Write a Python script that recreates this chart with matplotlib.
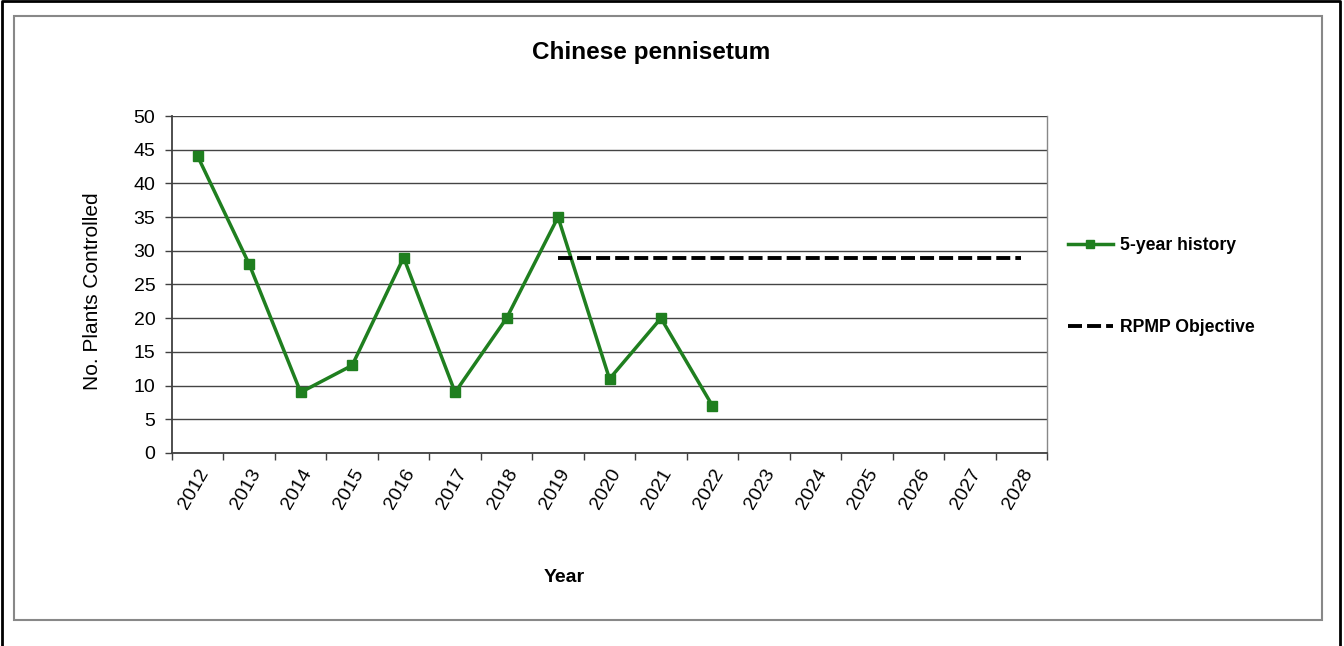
import matplotlib.pyplot as plt
from matplotlib.lines import Line2D
from matplotlib.patches import Rectangle

plt.rcParams["font.family"] = ["Liberation Sans", "DejaVu Sans"]

years = [str(y) for y in range(2012, 2029)]
history_years = years[:11]
history = [44, 28, 9, 13, 29, 9, 20, 35, 11, 20, 7]
objective_years = years[7:]
objective = [29] * len(objective_years)

green = "#1f7f1f"
dash = (0, (3.6, 1.3))

fig = plt.figure(figsize=(13.44, 6.46), dpi=100)
ax = fig.add_axes([0.128, 0.2988, 0.651, 0.5216])

xpos = {y: i for i, y in enumerate(years)}
ax.plot([xpos[y] for y in history_years], history, color=green, lw=2.5,
        marker="s", ms=6.5, mfc=green, mec=green, zorder=3)
ax.plot([xpos[y] for y in objective_years], objective, color="black",
        lw=2.8, ls=dash, zorder=3)

ax.set_xlim(-0.5, len(years) - 0.5)
ax.set_ylim(0, 50)
ax.set_yticks(range(0, 51, 5))
ax.set_xticks(range(len(years)))
ax.set_xticklabels(years, rotation=60, ha="right", rotation_mode="anchor",
                   fontsize=14)
ax.set_xticks([i - 0.5 for i in range(len(years) + 1)], minor=True)
ax.tick_params(axis="x", which="major", length=0, pad=9)
ax.tick_params(axis="x", which="minor", length=5, width=1, color="#404040")
ax.tick_params(axis="y", length=5, width=1, color="#404040", labelsize=14, pad=7)
ax.yaxis.grid(True, color="#444444", lw=1)
ax.set_axisbelow(True)

ax.spines["right"].set_color("#888888")
ax.spines["right"].set_linewidth(1)
for side in ["left", "bottom"]:
    ax.spines[side].set_color("#404040")
    ax.spines[side].set_linewidth(1.3)
ax.spines["top"].set_visible(False)

ax.set_ylabel("No. Plants Controlled", fontsize=15)
ax.yaxis.set_label_coords(-0.08, 0.48)
fig.text(564 / 1344, 1 - 577 / 646, "Year", fontsize=14, fontweight="bold",
         ha="center", va="center")
fig.text(651 / 1344, 1 - 52 / 646, "Chinese pennisetum", fontsize=17.5,
         fontweight="bold", ha="center", va="center")

handles = [
    Line2D([], [], color=green, lw=2.5, marker="s", ms=6, mfc=green, mec=green),
    Line2D([], [], color="black", lw=2.8, ls=dash),
]
leg = fig.legend(handles, ["5-year history", "RPMP Objective"],
                 loc="upper left", bbox_to_anchor=(1052 / 1344, 1 - 221 / 646),
                 frameon=False, handlelength=2.55, handletextpad=0.4,
                 labelspacing=3.7, prop={"weight": "bold", "size": 12.7})

# inner grey frame and outer black border
fig.add_artist(Rectangle((14 / 1344, 1 - 620 / 646), 1308 / 1344, 604 / 646,
                         transform=fig.transFigure, fill=False,
                         ec="#888888", lw=1.5))
fig.add_artist(Line2D([1.5 / 1344, 1.5 / 1344, 1340 / 1344, 1340 / 1344],
                      [0, 1 - 1 / 646, 1 - 1 / 646, 0],
                      transform=fig.transFigure, color="black", lw=2))

fig.savefig("out.png", dpi=100)
